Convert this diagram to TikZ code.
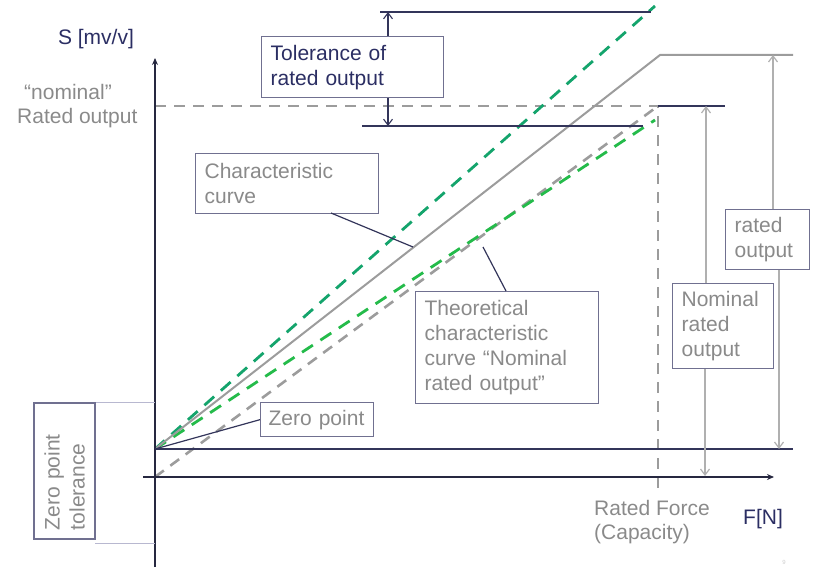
\documentclass[tikz,border=0pt]{standalone}
\usepackage{fontspec}
\setmainfont{Liberation Sans}
\usetikzlibrary{arrows.meta}
\definecolor{navy}{HTML}{2B2E63}
\definecolor{axisc}{HTML}{262840}
\definecolor{darkl}{HTML}{33355A}
\definecolor{boxc}{HTML}{707090}
\definecolor{grayt}{HTML}{8A8A8A}
\definecolor{grayl}{HTML}{9C9C9C}
\definecolor{greenA}{HTML}{14A46C}
\definecolor{greenB}{HTML}{24BB4A}
\definecolor{thinl}{HTML}{B8B8D0}
\begin{document}
\begin{tikzpicture}[x=1pt,y=-1pt,
  txt/.style={font=\fontsize{21}{25}\selectfont, inner sep=0pt},
  bx/.style={draw=boxc, line width=1.3pt, fill=white, align=left, inner xsep=9pt, inner ysep=0pt,
     font=\fontsize{21}{25}\selectfont, text=grayt, anchor=north west},
  axis/.style={draw=axisc, line width=1.8pt, -{Stealth[length=7pt,width=6pt]}},
  darkline/.style={draw=darkl, line width=1.8pt},
  dimarrow/.style={draw=grayl!80, line width=1.4pt, -{Straight Barb[length=6pt,width=9pt,line width=1.2pt]}},
  tolarrow/.style={draw=darkl, line width=1.2pt, -{Straight Barb[length=6pt,width=9pt,line width=1.1pt]}},
  conn/.style={draw=darkl, line width=1.2pt},
  grayd/.style={draw=grayl, line width=2.6pt, dash pattern=on 11pt off 8pt},
  greend/.style={line width=2.8pt, dash pattern=on 13pt off 9pt},
  charline/.style={draw=grayl, line width=2pt}
]
\useasboundingbox (0,0) rectangle (813,567);

% key coordinates
\coordinate (O) at (155,477);
\coordinate (Z) at (155,449);
\coordinate (Ytop) at (155,58);
\coordinate (Ybot) at (155,567);
\coordinate (Xl) at (143,477);
\coordinate (Xr) at (774,477);
\coordinate (N) at (658,106);
\coordinate (Nv) at (658,491);
\coordinate (Nh) at (725,106);
\coordinate (Ny) at (155,106);
\coordinate (C) at (660,55);
\coordinate (Ch) at (793,55);
\coordinate (Zr) at (793,449);
\coordinate (GA) at (655,6);
\coordinate (GB) at (655,120);
\coordinate (T1a) at (380,12);
\coordinate (T1b) at (651,12);
\coordinate (T2a) at (362,126);
\coordinate (T2b) at (643,126);

% dashed reference lines
\draw[grayd] (Ny) -- (N) -- (Nv);
% curves
\draw[grayd] (O) -- (N);
\draw[greend, draw=greenB] (Z) -- (GB);
\draw[greend, draw=greenA] (Z) -- (GA);
\draw[charline] (Z) -- (C) -- (Ch);

% horizontal dark lines
\draw[darkline] (Z) -- (Zr);
\draw[darkline] (N) -- (Nh);
\draw[darkline] (T1a) -- (T1b);
\draw[darkline] (T2a) -- (T2b);

% axes
\draw[axis] (Ybot) -- (Ytop);
\draw[axis] (Xl) -- (Xr);

% zero point tolerance thin lines
\draw[thinl, line width=1pt] (95,402) -- (155,402);
\draw[thinl, line width=1pt] (95,543) -- (155,543);

% boxes
\node[bx, text=navy, minimum width=182pt, minimum height=61pt, text width=164pt] (tol) at (261,36) {Tolerance of\\rated output};
\node[bx, minimum width=183pt, minimum height=60pt, text width=165pt] (cc) at (195,153) {Characteristic\\curve};
\node[bx, minimum width=183pt, minimum height=112pt, text width=165pt] (th) at (415,291) {Theoretical\\characteristic\\curve “Nominal\\rated output”};
\node[bx, inner xsep=8pt, minimum width=113pt, minimum height=34pt, text width=97pt] (zp) at (260,402) {Zero point};
\node[bx, minimum width=84pt, minimum height=60pt, text width=66pt] (ro) at (725,209) {rated\\output};
\node[bx, minimum width=101pt, minimum height=85pt, text width=83pt] (nro) at (672,283) {Nominal\\rated\\output};
\node[draw=boxc, line width=1.3pt, fill=white, rotate=90, align=left, inner xsep=9pt, inner ysep=0pt,
      font=\fontsize{21}{25}\selectfont, text=grayt, minimum width=136pt, minimum height=61pt, text width=118pt]
      (zpt) at (64.5,471) {Zero point\\tolerance};

% connectors from boxes
\coordinate (ccE) at (413,247);
\draw[conn] (331,213) -- (ccE);
\coordinate (thE) at (483,247);
\draw[conn] (506,291) -- (thE);
\draw[conn] (zp.west) -- (Z);

% tolerance arrows
\coordinate (tx1) at (388,12);
\coordinate (tx2) at (388,126);
\draw[tolarrow] (tol.north -| tx1) -- (tx1);
\draw[tolarrow] (tol.south -| tx2) -- (tx2);

% dimension arrows
\coordinate (r1) at (773,55);
\coordinate (r2) at (779,449);
\draw[dimarrow] (ro.north -| r1) -- (r1);
\draw[dimarrow] (ro.south -| r2) -- (r2);
\coordinate (n1) at (706,106);
\coordinate (n2) at (705,476);
\draw[dimarrow] (nro.north -| n1) -- (n1);
\draw[dimarrow] (nro.south -| n2) -- (n2);

% labels
\node[txt, text=navy, anchor=base] (S) at (96,45) {S [mv/v]};
\node[txt, text=grayt, anchor=base] (nom) at (68,100) {“nominal”};
\node[txt, text=grayt, anchor=base west] (rat) at (17,124) {Rated output};
\node[txt, text=grayt, anchor=base west, align=left] (rf) at (594,515) {Rated Force};
\node[txt, text=grayt, anchor=base west] (cap) at (594,539) {(Capacity)};
\node[txt, text=navy, anchor=base west] (FN) at (743,524) {F[N]};
\node[font=\fontsize{6}{7}\selectfont, text=black!20, inner sep=0pt] (pg) at (784,562) {9};
\end{tikzpicture}
\end{document}
